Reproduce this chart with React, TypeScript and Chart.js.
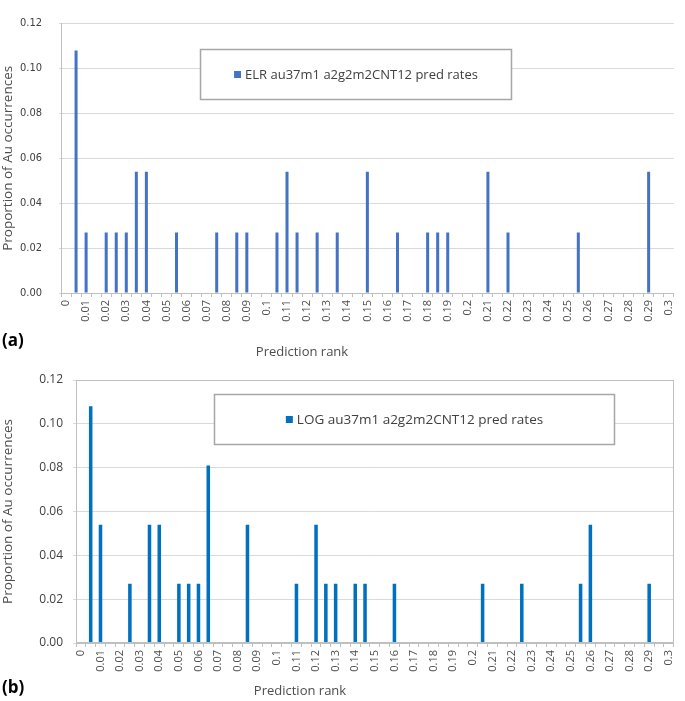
import { useEffect, useRef } from "react";
import { Chart, registerables } from "chart.js";

Chart.register(...registerables);

// ---- data ----
const rankCategories = [
  "0", "0.005", "0.01", "0.015", "0.02", "0.025", "0.03", "0.035", "0.04", "0.045",
  "0.05", "0.055", "0.06", "0.065", "0.07", "0.075", "0.08", "0.085", "0.09", "0.095",
  "0.1", "0.105", "0.11", "0.115", "0.12", "0.125", "0.13", "0.135", "0.14", "0.145",
  "0.15", "0.155", "0.16", "0.165", "0.17", "0.175", "0.18", "0.185", "0.19", "0.195",
  "0.2", "0.205", "0.21", "0.215", "0.22", "0.225", "0.23", "0.235", "0.24", "0.245",
  "0.25", "0.255", "0.26", "0.265", "0.27", "0.275", "0.28", "0.285", "0.29", "0.295",
  "0.3",
];

const elrRates = [
  0, 0.108, 0.027, 0, 0.027, 0.027, 0.027, 0.054, 0.054, 0,
  0, 0.027, 0, 0, 0, 0.027, 0, 0.027, 0.027, 0,
  0, 0.027, 0.054, 0.027, 0, 0.027, 0, 0.027, 0, 0,
  0.054, 0, 0, 0.027, 0, 0, 0.027, 0.027, 0.027, 0,
  0, 0, 0.054, 0, 0.027, 0, 0, 0, 0, 0,
  0, 0.027, 0, 0, 0, 0, 0, 0, 0.054, 0,
  0,
];

const logRates = [
  0, 0.108, 0.054, 0, 0, 0.027, 0, 0.054, 0.054, 0,
  0.027, 0.027, 0.027, 0.081, 0, 0, 0, 0.054, 0, 0,
  0, 0, 0.027, 0, 0.054, 0.027, 0.027, 0, 0.027, 0.027,
  0, 0, 0.027, 0, 0, 0, 0, 0, 0, 0,
  0, 0.027, 0, 0, 0, 0.027, 0, 0, 0, 0,
  0, 0.027, 0.054, 0, 0, 0, 0, 0, 0.027, 0,
  0,
];

const yTicks = [0, 0.02, 0.04, 0.06, 0.08, 0.1, 0.12];

const elrLabel = "ELR au37m1 a2g2m2CNT12 pred rates";
const logLabel = "LOG au37m1 a2g2m2CNT12 pred rates";
const yTitle = "Proportion of Au occurrences";
const xTitle = "Prediction rank";

const FONT = "'Open Sans', 'Noto Sans', sans-serif";
const NARROW = "'Liberation Sans Narrow', 'DejaVu Sans Condensed', sans-serif";
const TEXT = "#4d4d4d";

const overlayPlugin = {
  id: "overlay",
  afterDraw(chart: any, _args: any, opts: any) {
    const { ctx, chartArea: ca } = chart;
    ctx.save();
    if (opts.frame) {
      ctx.strokeStyle = "#bfbfbf";
      ctx.lineWidth = 1;
      ctx.strokeRect(Math.round(ca.left) + 0.5, Math.round(ca.top) + 0.5, Math.round(ca.width) - 1, Math.round(ca.height) - 1);
    }
    const [fx0, fy0, fx1, fy1] = opts.box;
    const x0 = Math.round(ca.left + fx0 * ca.width) + 0.5;
    const x1 = Math.round(ca.left + fx1 * ca.width) + 0.5;
    const y0 = Math.round(ca.top + fy0 * ca.height) + 0.5;
    const y1 = Math.round(ca.top + fy1 * ca.height) + 0.5;
    ctx.fillStyle = "#ffffff";
    ctx.fillRect(x0, y0, x1 - x0, y1 - y0);
    ctx.strokeStyle = "#a6a6a6";
    ctx.lineWidth = 1.5;
    ctx.strokeRect(x0, y0, x1 - x0, y1 - y0);
    const ds = chart.data.datasets[0];
    ctx.font = opts.legendFont;
    const tw = ctx.measureText(ds.label).width;
    const sq = 7;
    const gap = 4;
    const cx = (x0 + x1) / 2;
    const cy = (y0 + y1) / 2;
    const start = cx - (sq + gap + tw) / 2;
    ctx.fillStyle = ds.backgroundColor;
    ctx.fillRect(start, cy - sq / 2, sq, sq);
    ctx.fillStyle = "#404040";
    ctx.textBaseline = "middle";
    ctx.textAlign = "left";
    ctx.fillText(ds.label, start + sq + gap, cy + 0.5);
    // x axis title
    ctx.font = "13px " + FONT;
    ctx.fillStyle = TEXT;
    ctx.textAlign = "center";
    ctx.fillText(opts.xTitle, opts.xTitleX, opts.xTitleY);
    // panel label
    ctx.textAlign = "left";
    ctx.font = "bold 17px " + FONT;
    ctx.fillStyle = "#000000";
    ctx.fillText(opts.panelLabel, opts.panelX, opts.panelY);
    ctx.restore();
  },
};

type PanelProps = {
  top: number;
  height: number;
  values: number[];
  label: string;
  color: string;
  barPct: number;
  plotLeft: number;
  plotRight: number;
  plotTop: number;
  plotBottom: number;
  yFont: string;
  yPad: number;
  yTickLen: number;
  legendFont: string;
  box: number[];
  frame: boolean;
  panelLabel: string;
  panelY: number;
  xTitleX: number;
  xTitleY: number;
};

function Panel(p: PanelProps) {
  const ref = useRef<HTMLCanvasElement | null>(null);
  useEffect(() => {
    if (!ref.current) return;
    const chart = new Chart(ref.current, {
      type: "bar",
      data: {
        labels: rankCategories,
        datasets: [
          {
            label: p.label,
            data: p.values,
            backgroundColor: p.color,
            borderWidth: 0,
            barPercentage: p.barPct,
            categoryPercentage: 1,
          },
        ],
      },
      plugins: [overlayPlugin],
      options: {
        animation: false,
        responsive: false,
        maintainAspectRatio: false,
        layout: {
          padding: { top: p.plotTop, right: 685 - p.plotRight, left: 0, bottom: 0 },
        },
        plugins: {
          legend: { display: false },
          tooltip: { enabled: false },
          overlay: {
            box: p.box,
            frame: p.frame,
            legendFont: p.legendFont,
            panelLabel: p.panelLabel,
            panelX: 2,
            panelY: p.panelY,
            xTitle: xTitle,
            xTitleX: p.xTitleX,
            xTitleY: p.xTitleY,
          },
        } as any,
        scales: {
          x: {
            type: "category",
            offset: true,
            afterFit: (s: any) => {
              s.height = p.height - p.plotBottom;
            },
            grid: {
              offset: true,
              drawOnChartArea: false,
              drawTicks: true,
              tickLength: 4,
              color: "#bfbfbf",
            },
            border: { display: true, color: "#bfbfbf" },
            ticks: {
              autoSkip: false,
              maxRotation: 90,
              minRotation: 90,
              padding: 3,
              color: TEXT,
              font: { family: FONT, size: 11 },
              callback: (_v: any, i: number) => (i % 2 === 0 ? rankCategories[i] : ""),
            },
            title: { display: false },
          },
          y: {
            min: 0,
            max: 0.12,
            afterFit: (s: any) => {
              s.width = p.plotLeft;
            },
            afterBuildTicks: (s: any) => {
              s.ticks = yTicks.map((v) => ({ value: v }));
            },
            grid: {
              color: "#d9d9d9",
              drawTicks: true,
              tickLength: p.yTickLen,
            },
            border: { display: true, color: "#bfbfbf" },
            ticks: {
              padding: p.yPad,
              color: "#404040",
              font: { family: p.yFont, size: p.yFont === NARROW ? 11 : 12 },
              callback: (v: any) => Number(v).toFixed(2),
            },
            title: {
              display: true,
              text: yTitle,
              color: TEXT,
              font: { family: FONT, size: 13.5 },
              padding: { top: 0, bottom: 0 },
            },
          },
        },
      } as any,
    });
    return () => chart.destroy();
  }, []);
  return (
    <div style={{ position: "absolute", left: 0, top: p.top, width: 685, height: p.height }}>
      <canvas ref={ref} width={685} height={p.height} style={{ width: 685, height: p.height, display: "block" }} />
    </div>
  );
}

export default function App() {
  return (
    <div style={{ position: "fixed", left: 0, top: 0, width: 685, height: 701, background: "#ffffff" }}>
      <Panel
        top={0}
        height={358}
        values={elrRates}
        label={elrLabel}
        color="#4472c4"
        barPct={0.3}
        plotLeft={61}
        plotRight={675}
        plotTop={6}
        plotBottom={293}
        yFont={NARROW}
        yPad={17}
        yTickLen={2}
        legendFont={"13px " + FONT}
        box={[0.2264, 0.0941, 0.7345, 0.2787]}
        frame={false}
        panelLabel="(a)"
        panelY={341}
        xTitleX={302}
        xTitleY={352}
      />
      <Panel
        top={358}
        height={343}
        values={logRates}
        label={logLabel}
        color="#0070c0"
        barPct={0.36}
        plotLeft={76}
        plotRight={681}
        plotTop={22}
        plotBottom={285}
        yFont={FONT}
        yPad={10}
        yTickLen={3}
        legendFont={"13.5px " + FONT}
        box={[0.2314, 0.0532, 0.9008, 0.2433]}
        frame={true}
        panelLabel="(b)"
        panelY={330}
        xTitleX={300}
        xTitleY={333}
      />
    </div>
  );
}
